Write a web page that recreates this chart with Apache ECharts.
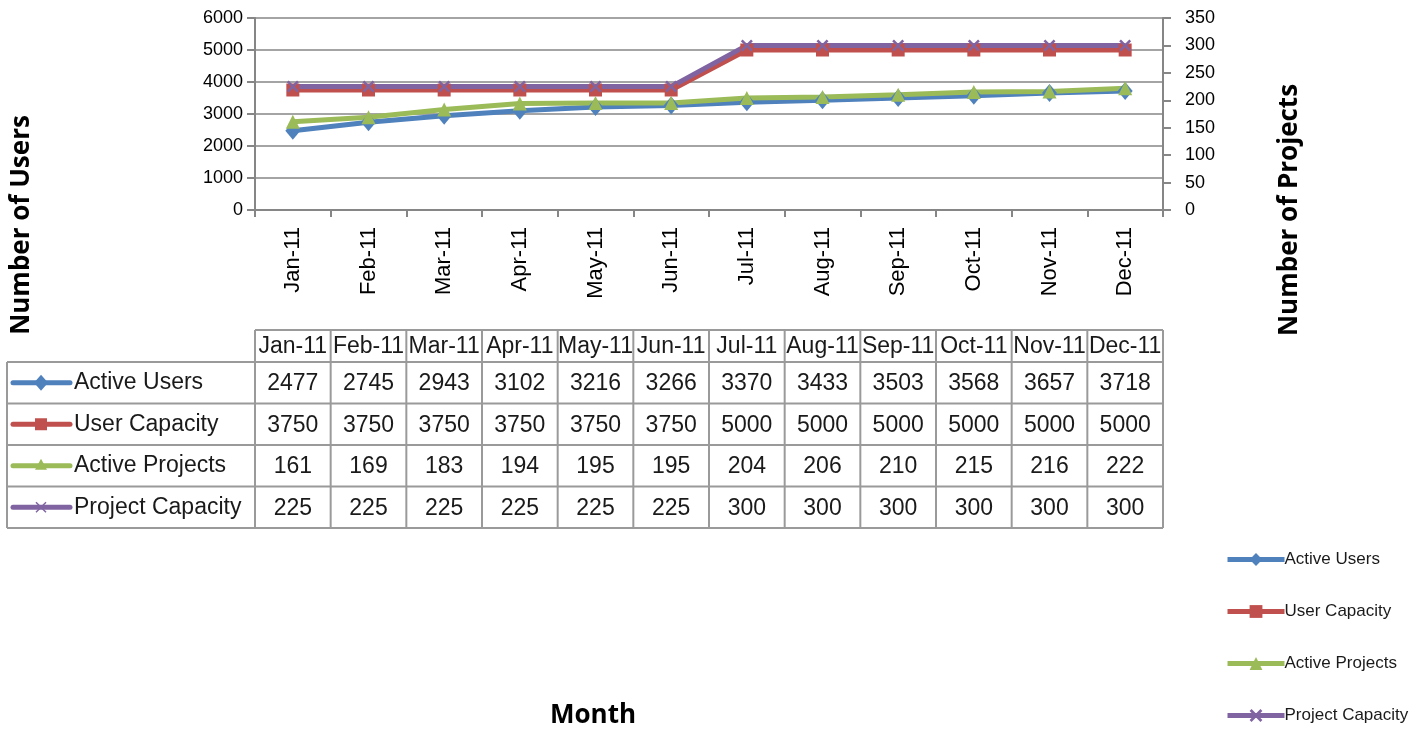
<!DOCTYPE html>
<html>
<head>
<meta charset="utf-8">
<script src="https://cdn.jsdelivr.net/npm/echarts@6/dist/echarts.min.js"></script>
<style>
html,body{margin:0;padding:0;background:#fff;}
#main{width:1418px;height:729px;}
</style>
</head>
<body>
<div id="main"></div>
<script>
var months = ['Jan-11','Feb-11','Mar-11','Apr-11','May-11','Jun-11','Jul-11','Aug-11','Sep-11','Oct-11','Nov-11','Dec-11'];
var activeUsers = [2477,2745,2943,3102,3216,3266,3370,3433,3503,3568,3657,3718];
var userCapacity = [3750,3750,3750,3750,3750,3750,5000,5000,5000,5000,5000,5000];
var activeProjects = [161,169,183,194,195,195,204,206,210,215,216,222];
var projectCapacity = [225,225,225,225,225,225,300,300,300,300,300,300];
var seriesNames = ['Active Users','User Capacity','Active Projects','Project Capacity'];
var usersTicks = [0,1000,2000,3000,4000,5000,6000];
var projectsTicks = [0,50,100,150,200,250,300,350];

var colors = ['#4F81BD','#C0504D','#9BBB59','#8064A2'];
var FONT = 'Liberation Sans';
var xPath = 'path://M0,1.5L1.5,0L5,3.5L8.5,0L10,1.5L6.5,5L10,8.5L8.5,10L5,6.5L1.5,10L0,8.5L3.5,5Z';

var G = {left:255, right:1163, top:18, bottom:210};
var colW = (G.right - G.left) / months.length;

var chart = echarts.init(document.getElementById('main'), null, {renderer:'canvas'});

var tbl = [];
var lineStyle = {stroke:'#9a9a9a', lineWidth:2};
var hTop = 330, r0 = 362, rowH = 41.5, tLeft = 7;
var rows = [activeUsers, userCapacity, activeProjects, projectCapacity];
var tBottom = r0 + rowH * rows.length;
tbl.push({type:'line', shape:{x1:G.left, y1:hTop, x2:G.right, y2:hTop}, style:lineStyle});
for (var i = 0; i <= rows.length; i++) {
  var y = r0 + rowH * i;
  tbl.push({type:'line', shape:{x1:tLeft, y1:y, x2:G.right, y2:y}, style:lineStyle});
}
tbl.push({type:'line', shape:{x1:tLeft, y1:r0, x2:tLeft, y2:tBottom}, style:lineStyle});
for (var c = 0; c <= months.length; c++) {
  var x = G.left + colW * c;
  tbl.push({type:'line', shape:{x1:x, y1:hTop, x2:x, y2:tBottom}, style:lineStyle});
}
months.forEach(function (m, c) {
  tbl.push({type:'text', x:G.left + colW * c + colW / 2, y:(hTop + r0) / 2 + 1,
    style:{text:m, fill:'#1a1a1a', font:'23px "' + FONT + '"', textAlign:'center', textVerticalAlign:'middle'}});
});
rows.forEach(function (arr, r) {
  var cy = r0 + rowH * r + rowH / 2 + 1;
  arr.forEach(function (v, c) {
    tbl.push({type:'text', x:G.left + colW * c + colW / 2, y:cy,
      style:{text:String(v), fill:'#1a1a1a', font:'23px "' + FONT + '"', textAlign:'center', textVerticalAlign:'middle'}});
  });
  var col = colors[r];
  tbl.push({type:'line', shape:{x1:13, y1:cy - 1, x2:70, y2:cy - 1}, style:{stroke:col, lineWidth:5, lineCap:'round'}});
  var mx = 41, my = cy - 1;
  if (r === 0) tbl.push({type:'polygon', shape:{points:[[mx,my-8],[mx+7,my],[mx,my+8],[mx-7,my]]}, style:{fill:col}});
  if (r === 1) tbl.push({type:'rect', shape:{x:mx-6, y:my-6, width:12, height:12}, style:{fill:col}});
  if (r === 2) tbl.push({type:'polygon', shape:{points:[[mx,my-7],[mx+6,my+4],[mx-6,my+4]]}, style:{fill:col}});
  if (r === 3) {
    tbl.push({type:'line', shape:{x1:mx-5, y1:my-5, x2:mx+5, y2:my+5}, style:{stroke:col, lineWidth:1.5}});
    tbl.push({type:'line', shape:{x1:mx-5, y1:my+5, x2:mx+5, y2:my-5}, style:{stroke:col, lineWidth:1.5}});
  }
  tbl.push({type:'text', x:74, y:cy - 1,
    style:{text:seriesNames[r], fill:'#1a1a1a', font:'23px "' + FONT + '"', textAlign:'left', textVerticalAlign:'middle'}});
});
tbl.push({type:'text', x:22, y:225, rotation:Math.PI/2,
  style:{text:'Number of Users', fill:'#000', font:'bold 26px "Open Sans"', textAlign:'center', textVerticalAlign:'middle'}});
tbl.push({type:'text', x:1290, y:210, rotation:Math.PI/2,
  style:{text:'Number of Projects', fill:'#000', font:'bold 26px "Open Sans"', textAlign:'center', textVerticalAlign:'middle'}});
tbl.push({type:'text', x:593, y:716,
  style:{text:'Month', fill:'#000', font:'bold 26px "Open Sans"', textAlign:'center', textVerticalAlign:'middle'}});

function mkSeries(name, data, yIdx, color, symbol, size) {
  return {
    name:name, type:'line', data:data, yAxisIndex:yIdx,
    symbol:symbol, symbolSize:size, showSymbol:true,
    lineStyle:{color:color, width:5},
    itemStyle:{color:color},
    emphasis:{disabled:true}, animation:false, z:2
  };
}

chart.setOption({
  animation:false,
  backgroundColor:'#fff',
  textStyle:{fontFamily:FONT},
  grid:{left:G.left, top:G.top, width:G.right - G.left, height:G.bottom - G.top, containLabel:false},
  legend:{
    orient:'vertical', left:1225, top:551, height:240, padding:0, itemWidth:57, itemHeight:16, itemGap:35,
    lineStyle:{width:5},
    textStyle:{fontSize:17, lineHeight:16, color:'#1a1a1a', fontFamily:FONT, padding:[0,0,0,-5]},
    data:seriesNames
  },
  xAxis:{
    type:'category', data:months, boundaryGap:true,
    axisLine:{lineStyle:{color:'#868686', width:2}},
    axisTick:{show:true, inside:false, length:7, alignWithLabel:false, lineStyle:{color:'#868686', width:2}},
    axisLabel:{rotate:90, margin:17, fontSize:22, color:'#000', fontFamily:FONT, interval:0}
  },
  yAxis:[
    {type:'value', min:usersTicks[0], max:usersTicks[usersTicks.length-1], interval:1000, position:'left',
      axisLine:{show:true, lineStyle:{color:'#868686', width:2}},
      axisTick:{show:true, length:8, lineStyle:{color:'#868686', width:2}},
      splitLine:{show:true, lineStyle:{color:'#868686', width:1.5}},
      axisLabel:{fontSize:18, color:'#000', margin:12, fontFamily:FONT, formatter:function(v){return String(v);}}},
    {type:'value', min:projectsTicks[0], max:projectsTicks[projectsTicks.length-1], interval:50, position:'right',
      axisLine:{show:true, lineStyle:{color:'#868686', width:2}},
      axisTick:{show:true, length:8, lineStyle:{color:'#868686', width:2}},
      splitLine:{show:false},
      axisLabel:{fontSize:18, color:'#000', margin:22, fontFamily:FONT, formatter:function(v){return String(v);}}}
  ],
  series:[
    mkSeries(seriesNames[0], activeUsers, 0, colors[0], 'diamond', [15,18]),
    mkSeries(seriesNames[1], userCapacity, 0, colors[1], 'rect', 13),
    mkSeries(seriesNames[2], activeProjects, 1, colors[2], 'triangle', 14),
    mkSeries(seriesNames[3], projectCapacity, 1, colors[3], xPath, 12)
  ],
  graphic:{elements:tbl}
});
</script>
</body>
</html>
